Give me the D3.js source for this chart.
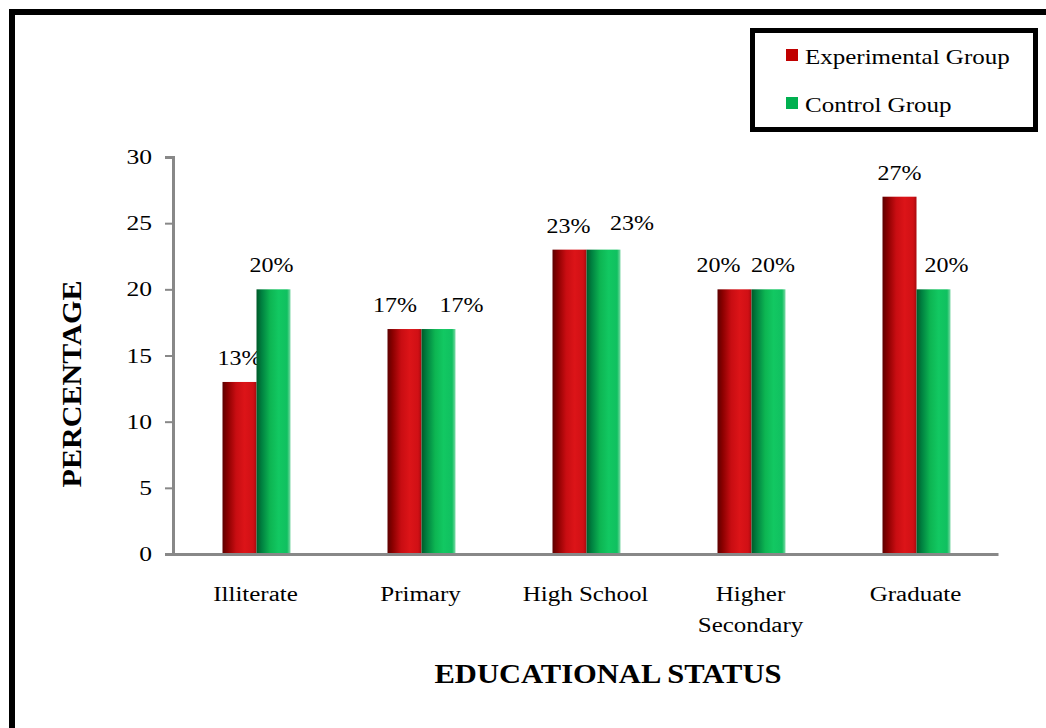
<!DOCTYPE html>
<html><head><meta charset="utf-8">
<script src="https://cdn.jsdelivr.net/npm/d3@7"></script>
<style>html,body{margin:0;padding:0;background:#fff;}svg{display:block;}</style>
</head><body>
<svg id="c" width="1046" height="728"></svg>
<script>
const categories = [["Illiterate"], ["Primary"], ["High School"], ["Higher", "Secondary"], ["Graduate"]];
const seriesNames = ["Experimental Group", "Control Group"];
const experimental = [13, 17, 23, 20, 27];
const control = [20, 17, 23, 20, 20];
const yTicks = [0, 5, 10, 15, 20, 25, 30];

// layout nudges of the value labels (pixels), as placed in the original
const labelDx = [[0, -9.5, -1, -16, 0], [-2, 23, 28.5, 4.5, 13]];
const labelDy = [[0, 0, 0, 0, 0], [0, 0, -3, 0, 0]];

const svg = d3.select("#c");
const font = "'Liberation Serif','Times New Roman',serif";

// horizontal glyph stretch around each text's anchor point
function hstretch(sel, f) {
  sel.each(function () {
    const s = d3.select(this);
    const tx = +s.attr("x") || 0, ty = +s.attr("y") || 0;
    s.attr("x", 0).attr("y", 0).attr("transform", `translate(${tx},${ty}) scale(${f},1)`);
  });
}

// gradients
const defs = svg.append("defs");
function grad(id, stops) {
  const g = defs.append("linearGradient").attr("id", id).attr("x1", 0).attr("x2", 1).attr("y1", 0).attr("y2", 0);
  stops.forEach(s => g.append("stop").attr("offset", s[0]).attr("stop-color", s[1]));
}
grad("gRed", [[0, "#5e0000"], [0.15, "#8a0000"], [0.4, "#c80d12"], [0.65, "#dc1418"], [0.9, "#d01015"], [1, "#a80a0e"]]);
grad("gGreen", [[0, "#005a28"], [0.15, "#008040"], [0.4, "#0db552"], [0.65, "#12c862"], [0.9, "#10c060"], [1, "#7fd9a8"]]);

// outer border
svg.append("rect").attr("x", 12).attr("y", 12).attr("width", 1100).attr("height", 800)
  .attr("fill", "none").attr("stroke", "#000").attr("stroke-width", 6);

const x0 = 173, x1 = 998, yTop = 157, yBot = 554;
const x = d3.scaleBand().domain(d3.range(categories.length)).range([x0, x1]).paddingInner(0).paddingOuter(0);
const y = d3.scaleLinear().domain([0, 30]).range([yBot, yTop]);
const bw = 34;

// y axis
const yAxis = d3.axisLeft(y).tickValues(yTicks).tickSize(8).tickPadding(0).tickFormat(d3.format("d"));
const gy = svg.append("g").attr("transform", `translate(${x0},0)`).call(yAxis);
gy.select(".domain").attr("stroke", "#888").attr("stroke-width", 3);
gy.selectAll(".tick line").attr("stroke", "#888").attr("stroke-width", 2);
gy.selectAll(".tick text").attr("font-family", font).attr("font-size", 20).attr("fill", "#000")
  .attr("dy", null).attr("dominant-baseline", "central")
  .each(function () {
    d3.select(this).attr("x", null).attr("transform", "translate(-21,0) scale(1.28,1)");
  });

// bars
const series = [experimental, control];
const fills = ["url(#gRed)", "url(#gGreen)"];
series.forEach((vals, si) => {
  svg.append("g").selectAll("rect").data(vals).join("rect")
    .attr("x", (d, i) => x(i) + x.bandwidth() / 2 - bw + si * bw + 1)
    .attr("y", d => y(d))
    .attr("width", bw)
    .attr("height", d => y(0) - y(d))
    .attr("fill", fills[si]);
  const t = svg.append("g").selectAll("text").data(vals).join("text")
    .attr("x", (d, i) => x(i) + x.bandwidth() / 2 - bw / 2 + si * bw + 1 + labelDx[si][i])
    .attr("y", (d, i) => y(d) - 17 + labelDy[si][i])
    .attr("text-anchor", "middle")
    .attr("font-family", font).attr("font-size", 20).attr("fill", "#000")
    .text(d => d + "%");
  hstretch(t, 1.2);
});

// x axis
const xAxis = d3.axisBottom(x).tickSize(0).tickFormat(() => "");
const gx = svg.append("g").attr("transform", `translate(0,${yBot})`).call(xAxis);
gx.select(".domain").attr("stroke", "#888").attr("stroke-width", 3);
gx.selectAll(".tick text").remove();
categories.forEach((lines, i) => {
  lines.forEach((ln, k) => {
    const t = svg.append("text").attr("font-family", font).attr("font-size", 20).attr("fill", "#000")
      .attr("text-anchor", "middle")
      .attr("x", x(i) + x.bandwidth() / 2).attr("y", 601 + k * 31).text(ln);
    hstretch(t, 1.25);
  });
});

// axis titles
svg.append("text").attr("transform", "translate(81,384) rotate(-90)")
  .attr("text-anchor", "middle").attr("font-family", font).attr("font-weight", "bold")
  .attr("font-size", 27).attr("textLength", 207).attr("lengthAdjust", "spacingAndGlyphs").text("PERCENTAGE");
svg.append("text").attr("x", 608).attr("y", 683)
  .attr("text-anchor", "middle").attr("font-family", font).attr("font-weight", "bold")
  .attr("font-size", 28).attr("textLength", 347).attr("lengthAdjust", "spacingAndGlyphs").text("EDUCATIONAL STATUS");

// legend
svg.append("rect").attr("x", 752.5).attr("y", 30.5).attr("width", 283).attr("height", 99)
  .attr("fill", "#fff").attr("stroke", "#000").attr("stroke-width", 5);
const legColors = ["#c00000", "#00b050"];
seriesNames.forEach((n, i) => {
  svg.append("rect").attr("x", 786).attr("y", 49 + i * 48).attr("width", 12).attr("height", 12).attr("fill", legColors[i]);
  const t = svg.append("text").attr("x", 805).attr("y", 64 + i * 48).attr("font-family", font).attr("font-size", 21)
    .attr("fill", "#000").text(n);
  hstretch(t, 1.19);
});
</script>
</body></html>
